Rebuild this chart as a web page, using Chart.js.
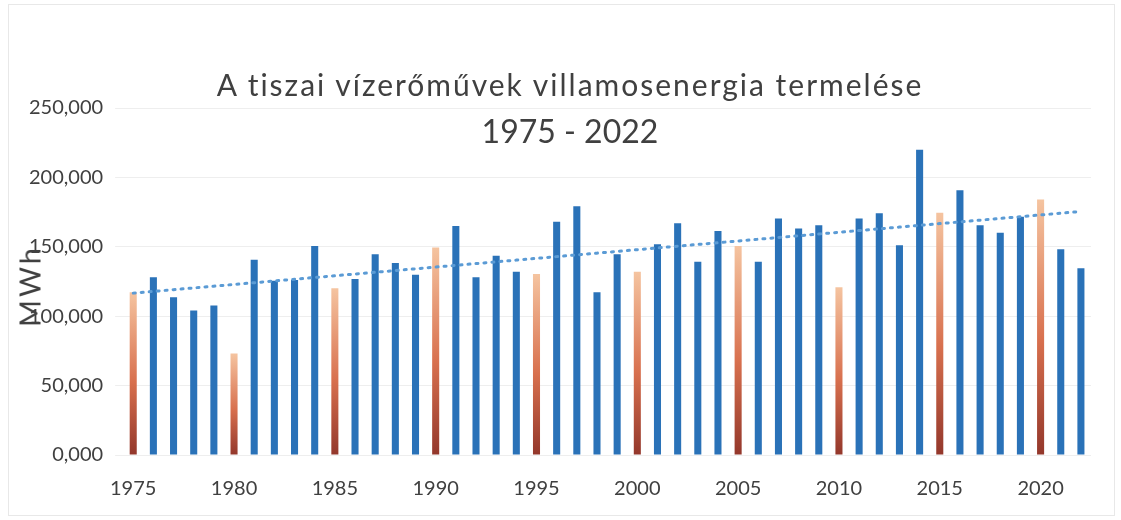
<!DOCTYPE html>
<html>
<head>
<meta charset="utf-8">
<script src="https://cdn.jsdelivr.net/npm/chart.js@4.4.0/dist/chart.umd.min.js"></script>
<style>
    html, body { margin: 0; padding: 0; background: #fff; }
    #wrap { position: relative; width: 1121px; height: 520px; }
    #frame { position: absolute; left: 8px; top: 4px; right: 6px; bottom: 4px; border: 1px solid #e8e8e8; }
    canvas { position: absolute; left: 0; top: 0; }
    .title { position: absolute; left: 0; width: 1140px; text-align: center; font-family: 'Lato', sans-serif; color: #404040; line-height: 1; white-space: nowrap; }
    #ytitle { position: absolute; left: 29px; top: 286px; transform: translate(-50%, -50%) rotate(-90deg); font-family: 'Lato', sans-serif; font-size: 29px; letter-spacing: 3px; color: #404040; line-height: 1; }
</style>
</head>
<body>
<div id="wrap">
    <div id="frame"></div>
    <canvas id="prodChart" width="1121" height="520"></canvas>
    <div class="title" style="top: 69px; font-size: 30px; letter-spacing: 2px;">A tiszai vízerőművek villamosenergia termelése</div>
    <div class="title" style="top: 115px; font-size: 32px;">1975 - 2022</div>
    <div id="ytitle">MWh</div>
</div>
<script>
// yearly production, MWh
const years = [
    1975, 1976, 1977, 1978, 1979, 1980, 1981, 1982, 1983, 1984,
    1985, 1986, 1987, 1988, 1989, 1990, 1991, 1992, 1993, 1994,
    1995, 1996, 1997, 1998, 1999, 2000, 2001, 2002, 2003, 2004,
    2005, 2006, 2007, 2008, 2009, 2010, 2011, 2012, 2013, 2014,
    2015, 2016, 2017, 2018, 2019, 2020, 2021, 2022
];
const production = [
    117300, 128000, 113700, 104100, 107700, 73100, 140600, 125600, 126000, 150600,
    120100, 126800, 144700, 138300, 129900, 149500, 165000, 128000, 143500, 132000,
    130400, 168100, 179300, 117300, 144700, 132000, 151900, 166900, 139200, 161400,
    150600, 139200, 170300, 163100, 165500, 120800, 170300, 174100, 151100, 219900,
    174600, 190800, 165500, 160200, 171700, 184100, 148300, 134500
];
const yTicks = [0, 50000, 100000, 150000, 200000, 250000];

const BLUE = '#2a72b8';
const FONT = "'Lato', sans-serif";
const TEXT = '#404040';

// linear trend (least squares over year index)
const n = production.length;
const mx = (n - 1) / 2;
const my = production.reduce((a, b) => a + b, 0) / n;
let sxy = 0, sxx = 0;
production.forEach((v, i) => { sxy += (i - mx) * (v - my); sxx += (i - mx) * (i - mx); });
const slope = sxy / sxx;
const trend = production.map((_, i) => my + slope * (i - mx));

// every 5th year gets the orange gradient bar
function barColor(ctx) {
    const year = years[ctx.dataIndex];
    if (year % 5 !== 0) return BLUE;
    const chart = ctx.chart;
    const y = chart.scales.y;
    if (!chart.chartArea || !y) return '#e0805a';
    const top = y.getPixelForValue(production[ctx.dataIndex]);
    const base = y.getPixelForValue(0);
    const g = chart.ctx.createLinearGradient(0, base, 0, top);
    g.addColorStop(0, '#93372b');
    g.addColorStop(0.45, '#d8704e');
    g.addColorStop(1, '#f5c4a0');
    return g;
}

new Chart(document.getElementById('prodChart').getContext('2d'), {
    type: 'bar',
    data: {
        labels: years,
        datasets: [
            {
                type: 'line',
                label: 'Trend',
                data: trend,
                borderColor: '#5b9bd5',
                borderWidth: 3,
                borderDash: [2, 6],
                borderCapStyle: 'round',
                pointRadius: 0,
                fill: false,
                order: 0
            },
            {
                label: 'MWh',
                data: production,
                backgroundColor: barColor,
                barPercentage: 0.7,
                categoryPercentage: 0.5,
                order: 1
            }
        ]
    },
    options: {
        responsive: false,
        animation: false,
        layout: { padding: { left: 17, right: 30, top: 108, bottom: 5 } },
        plugins: {
            legend: { display: false },
            tooltip: { enabled: false }
        },
        scales: {
            x: {
                grid: { display: false },
                border: { display: false },
                ticks: {
                    autoSkip: false,
                    maxRotation: 0,
                    padding: 14,
                    color: TEXT,
                    font: { family: FONT, size: 20 },
                    callback: (v, i) => years[i] % 5 === 0 ? String(years[i]) : ''
                }
            },
            y: {
                min: 0,
                max: 250000,
                afterBuildTicks: axis => { axis.ticks = yTicks.map(v => ({ value: v })); },
                grid: { color: '#eeeeee' },
                border: { display: false },
                ticks: {
                    padding: 12,
                    color: TEXT,
                    font: { family: FONT, size: 20 },
                    callback: v => (v / 1000) + ',000'
                }
            }
        }
    }
});
</script>
</body>
</html>
